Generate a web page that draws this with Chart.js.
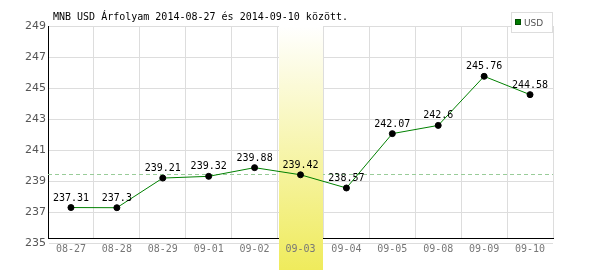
<!DOCTYPE html>
<html>
<head>
<meta charset="utf-8">
<script src="https://cdn.jsdelivr.net/npm/chart.js@4.4.0/dist/chart.umd.min.js"></script>
<style>
  html, body { margin: 0; padding: 0; background: #fff; }
  #wrap { width: 600px; height: 270px; }
</style>
</head>
<body>
<div id="wrap"><canvas id="rateChart" width="600" height="270"></canvas></div>
<script>
const titleText = 'MNB USD Árfolyam 2014-08-27 és 2014-09-10 között.';
const dates = ['08-27', '08-28', '08-29', '09-01', '09-02', '09-03', '09-04', '09-05', '09-08', '09-09', '09-10'];
const usdRates = [237.31, 237.3, 239.21, 239.32, 239.88, 239.42, 238.57, 242.07, 242.6, 245.76, 244.58];
const rateLabels = ['237.31', '237.3', '239.21', '239.32', '239.88', '239.42', '238.57', '242.07', '242.6', '245.76', '244.58'];
const yTicks = [235, 237, 239, 241, 243, 245, 247, 249];
const refLine = 239.44;
const highlightIndex = 5;

const MONO = '"DejaVu Sans Mono", monospace';

// dashed reference line + highlighted day column
const backdropPlugin = {
    id: 'backdrop',
    beforeDatasetsDraw(chart) {
        const ctx = chart.ctx;
        const area = chart.chartArea;
        const x = chart.scales.x;
        const y = chart.scales.y;

        const yRef = Math.round(y.getPixelForValue(refLine)) + 0.5;
        ctx.save();
        ctx.strokeStyle = '#99cc99';
        ctx.lineWidth = 1;
        ctx.setLineDash([4, 3]);
        ctx.beginPath();
        ctx.moveTo(area.left, yRef);
        ctx.lineTo(area.right, yRef);
        ctx.stroke();
        ctx.restore();

        const half = (x.getPixelForValue(1) - x.getPixelForValue(0)) / 2;
        const cx = x.getPixelForValue(highlightIndex);
        const left = Math.round(cx - half) + 1;
        const right = Math.round(cx + half);
        const grad = ctx.createLinearGradient(0, area.top, 0, chart.height);
        grad.addColorStop(0, '#ffffff');
        grad.addColorStop(1, '#efeb5c');
        ctx.save();
        ctx.fillStyle = grad;
        ctx.fillRect(left, area.top, right - left, chart.height - area.top);
        // put the tick label back on top of the band
        ctx.beginPath();
        ctx.rect(left, area.top, right - left, chart.height - area.top);
        ctx.clip();
        x.drawLabels(area);
        ctx.restore();
    },
    afterDatasetsDraw(chart) {
        const ctx = chart.ctx;
        const meta = chart.getDatasetMeta(0);
        ctx.save();
        ctx.font = '10px ' + MONO;
        ctx.fillStyle = '#000';
        ctx.textAlign = 'center';
        ctx.textBaseline = 'alphabetic';
        meta.data.forEach((pt, i) => {
            ctx.fillText(rateLabels[i], pt.x, pt.y - 7);
        });
        ctx.restore();
    },
    afterDraw(chart) {
        const ctx = chart.ctx;
        ctx.save();
        ctx.font = '10px ' + MONO;
        ctx.fillStyle = '#000';
        ctx.textBaseline = 'alphabetic';
        ctx.fillText(titleText, 53, 20);

        // legend box
        ctx.fillStyle = '#fff';
        ctx.fillRect(511, 12, 42, 21);
        ctx.strokeStyle = '#dddddd';
        ctx.lineWidth = 1;
        ctx.strokeRect(511.5, 12.5, 41, 20);
        ctx.fillStyle = '#007a00';
        ctx.fillRect(515, 19, 6, 6);
        ctx.strokeStyle = '#004d00';
        ctx.strokeRect(515.5, 19.5, 5, 5);
        ctx.fillStyle = '#555';
        ctx.font = '9px "DejaVu Sans", sans-serif';
        ctx.fillText('USD', 524, 26);
        ctx.restore();
    }
};

const ctx = document.getElementById('rateChart').getContext('2d');
new Chart(ctx, {
    type: 'line',
    data: {
        labels: dates,
        datasets: [{
            label: 'USD',
            data: usdRates,
            borderColor: '#008000',
            borderWidth: 1,
            tension: 0,
            pointRadius: 3,
            pointBackgroundColor: '#000',
            pointBorderColor: '#000',
            pointBorderWidth: 1,
            fill: false
        }]
    },
    options: {
        responsive: false,
        animation: false,
        devicePixelRatio: 1,
        layout: {
            padding: { top: 26, right: 47, left: 0, bottom: 0 }
        },
        plugins: {
            legend: { display: false },
            title: { display: false },
            tooltip: { enabled: false }
        },
        scales: {
            x: {
                offset: true,
                grid: {
                    offset: true,
                    color: '#dddddd',
                    drawTicks: false
                },
                border: { color: '#000', width: 1 },
                ticks: {
                    color: '#777',
                    font: { family: MONO, size: 10 },
                    padding: 5,
                    maxRotation: 0,
                    autoSkip: false
                },
                afterFit(scale) { scale.height = 32; }
            },
            y: {
                min: 235.35,
                max: 249,
                grid: {
                    color: '#dddddd',
                    drawTicks: false
                },
                border: { color: '#000', width: 1 },
                ticks: {
                    color: '#555',
                    font: { family: '"DejaVu Sans", sans-serif', size: 11 },
                    padding: 2
                },
                afterBuildTicks(scale) {
                    scale.ticks = yTicks.map(v => ({ value: v }));
                },
                afterFit(scale) { scale.width = 48; }
            }
        }
    },
    plugins: [backdropPlugin]
});
</script>
</body>
</html>
